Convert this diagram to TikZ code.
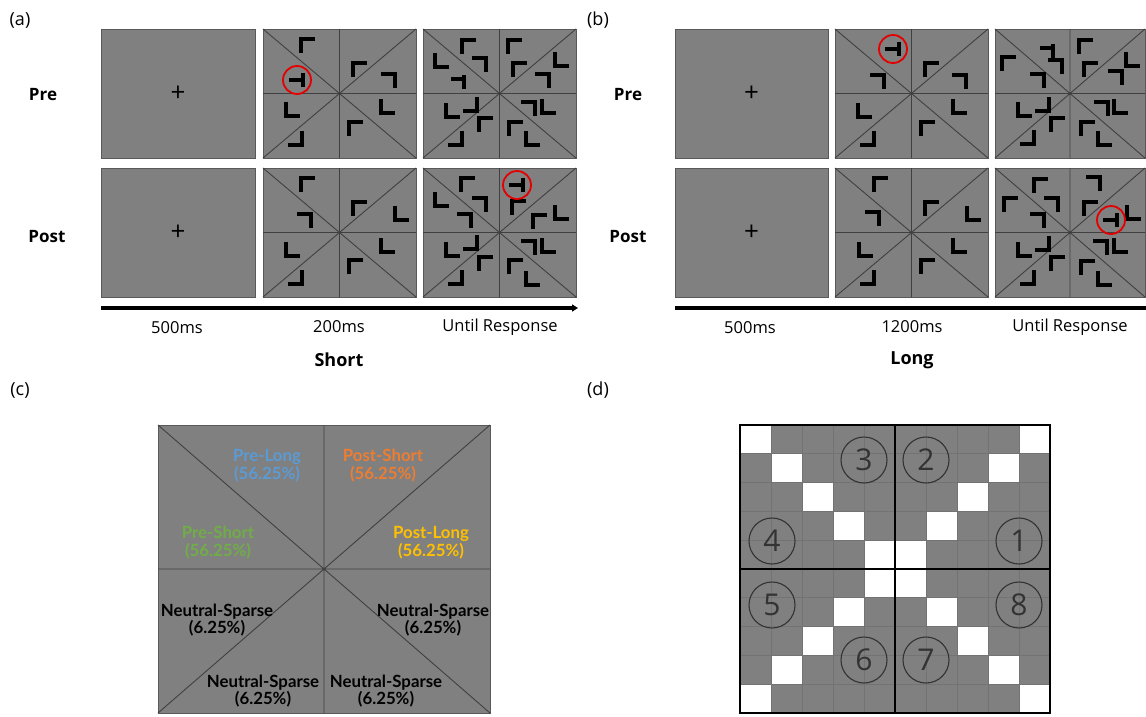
\documentclass[tikz,border=0pt]{standalone}
\usepackage{fontspec}
\setmainfont{Open Sans}
\newfontfamily\cfont{Lato}
\usetikzlibrary{arrows.meta}
\definecolor{stimgray}{HTML}{808080}
\definecolor{cblue}{HTML}{5B9BD5}
\definecolor{corange}{HTML}{ED7D31}
\definecolor{cgreen}{HTML}{70AD47}
\definecolor{cgold}{HTML}{FFC000}
\newcommand\fsz[1]{\fontsize{#1}{#1}\selectfont}
\tikzset{
  stim/.style={draw=black!65, fill=stimgray, line width=1pt, inner sep=0pt, outer sep=0pt,
    minimum width=153pt, minimum height=129pt, font=\fsz{26}},
  divline/.style={draw=black!75, line width=0.9pt},
  lstroke/.style={line width=3.2pt, line join=miter, line cap=butt},
  tgtring/.style={draw=red!90!black, line width=1.8pt, circle, minimum size=28pt, inner sep=0pt},
  panel/.style={font=\fsz{18}},
  rowlbl/.style={font=\bfseries\fsz{17}},
  tlbl/.style={font=\fsz{16.5}},
  cond/.style={font=\bfseries\fsz{18}},
  timeline/.style={line width=3.5pt, -{Triangle[length=6pt,width=7pt]}},
  ctext/.style={font=\cfont\bfseries\fontsize{16.8}{17.5}\selectfont, align=center, inner sep=0pt},
  gridline/.style={draw=black!55, line width=0.8pt},
  numc/.style={circle, draw=black!80, line width=1.1pt, minimum size=46pt, inner sep=0pt,
    font=\fsz{30}, text=black!80},
  lsh/.pic={\draw[lstroke] (7,-7) -- (-7,-7) -- (-7,7);},
  tgt/.pic={\draw[lstroke] (-8,0) -- (6,0); \draw[lstroke] (6,-7) -- (6,7);},
  toff/.pic={\draw[lstroke] (-7,-3) -- (6,-3); \draw[lstroke] (6,-7) -- (6,7);}
}
\newcommand\stimbox[4]{%
  \node[stim, minimum width=#4pt] (#1) at (#2,#3) {};
  \draw[divline] (#1.north) -- (#1.south) (#1.west) -- (#1.east)
    (#1.north west) -- (#1.south east) (#1.north east) -- (#1.south west);}
\begin{document}
\begin{tikzpicture}[x=1pt,y=-1pt]
\useasboundingbox (0,0) rectangle (1146,716);
\fill[white] (0,0) rectangle (1146,716);

% ---------------- panel (a) ----------------
\node[panel] (la) at (20,20) {(a)};
\node[rowlbl] (apre) at (43,95) {Pre};
\node[rowlbl] (apost) at (47,237) {Post};
\node[stim, minimum width=154pt] (a11) at (178,93.5) {+};
\node[stim, minimum width=154pt] (a21) at (178,232.5) {+};
\stimbox{a12}{339.5}{93.5}{153}
\stimbox{a13}{499.5}{93.5}{153}
\stimbox{a22}{339.5}{232.5}{153}
\stimbox{a23}{499.5}{232.5}{153}

\foreach \x/\y/\r in {308/46/0, 360/70/0, 388/81/-90, 293/109/90, 388/106/90, 356/129/0, 295/138/180}
  \pic[rotate=\r] at (\x,\y) {lsh};
\node[tgtring] (ta) at (297,80) {};
\pic at (297,80) {tgt};

\foreach \x/\y/\r in {469/47/0, 442/60/90, 479/65/-90, 515/47/0, 562/59/90, 520/70/0, 542/81/-90,
  453/110/90, 470/104/180, 486/125/0, 455/138/180, 528/109/-90, 549/106/90, 516/129/0, 533/138/90}
  \pic[rotate=\r] at (\x,\y) {lsh};
\pic at (458,82) {toff};

\foreach \x/\y/\r in {308/185/0, 304/221/-90, 360/209/0, 402/213/90, 293/249/90, 388/245/90, 356/267/0, 295/277/180}
  \pic[rotate=\r] at (\x,\y) {lsh};

\foreach \x/\y/\r in {468/185/0, 442/199/90, 479/205/-90, 464/221/-90, 519/208/0, 540/222/0, 562/212/90,
  453/249/90, 470/242/180, 486/264/0, 455/277/180, 528/248/-90, 549/245/90, 516/267/0, 533/278/90}
  \pic[rotate=\r] at (\x,\y) {lsh};
\node[tgtring] (tb) at (517,185) {};
\pic at (517,185) {tgt};

\coordinate (aT0) at (101,308);
\coordinate (aT1) at (578,308);
\draw[timeline] (aT0) -- (aT1);
\node[tlbl] (a500) at (177,328) {500ms};
\node[tlbl] (a200) at (339,327) {200ms};
\node[tlbl] (aur) at (500,327) {Until Response};
\node[cond] (ashort) at (339,360) {Short};

% ---------------- panel (b) ----------------
\node[panel] (lb) at (598,20) {(b)};
\node[rowlbl] (bpre) at (628,95) {Pre};
\node[rowlbl] (bpost) at (628,237) {Post};
\node[stim] (b11) at (751.5,93.5) {+};
\node[stim] (b21) at (751.5,232.5) {+};
\stimbox{b12}{911.5}{93.5}{153}
\stimbox{b13}{1070}{93.5}{150}
\stimbox{b22}{911.5}{232.5}{153}
\stimbox{b23}{1070}{232.5}{150}

\foreach \x/\y/\r in {877/82/-90, 932/70/0, 959/82/-90, 865/110/90, 960/106/90, 928/129/0, 867/138/180}
  \pic[rotate=\r] at (\x,\y) {lsh};
\node[tgtring] (tc) at (893,49) {};
\pic at (893,49) {tgt};

\foreach \x/\y/\r in {1009/64/0, 1055/67/-90, 1037/81/-90, 1086/47/0, 1133/59/90, 1091/70/0, 1115/78/-90,
  1025/109/90, 1042/104/180, 1058/125/0, 1027/137/180, 1101/109/-90, 1121/106/90, 1088/129/0, 1105/138/90}
  \pic[rotate=\r] at (\x,\y) {lsh};
\pic at (1047,51) {toff};

\foreach \x/\y/\r in {881/185/0, 872/219/-90, 932/209/0, 974/213/90, 866/249/90, 960/245/90, 928/267/0, 867/277/180}
  \pic[rotate=\r] at (\x,\y) {lsh};

\foreach \x/\y/\r in {1041/186/0, 1011/205/0, 1051/205/-90, 1037/221/-90, 1093/184/-90, 1091/209/0, 1134/212/90,
  1025/249/90, 1042/243/180, 1058/264/0, 1027/277/180, 1100/248/-90, 1121/245/90, 1088/268/0, 1105/278/90}
  \pic[rotate=\r] at (\x,\y) {lsh};
\node[tgtring] (td) at (1111,220) {};
\pic at (1111,220) {tgt};

\coordinate (bT0) at (675,308);
\coordinate (bT1) at (1152,308);
\draw[timeline] (bT0) -- (bT1);
\node[tlbl] (b500) at (750,328) {500ms};
\node[tlbl] (b1200) at (912,327) {1200ms};
\node[tlbl] (bur) at (1070,327) {Until Response};
\node[cond] (blong) at (912,360) {Long};

% ---------------- panel (c) ----------------
\node[panel] (lc) at (20,390) {(c)};
\node[stim, minimum width=332pt, minimum height=288pt] (cb) at (324,569) {};
\draw[divline] (cb.north) -- (cb.south) (cb.west) -- (cb.east)
  (cb.north west) -- (cb.south east) (cb.north east) -- (cb.south west);
\node[ctext, text=cblue] (cpl) at (267,465.5) {Pre-Long\\(56.25\%)};
\node[ctext, text=corange] (cps) at (383,465.5) {Post-Short\\(56.25\%)};
\node[ctext, text=cgreen] (cpres) at (218,542.5) {Pre-Short\\(56.25\%)};
\node[ctext, text=cgold] (cpostl) at (431,542.5) {Post-Long\\(56.25\%)};
\node[ctext, text=black] (cn1) at (217,620) {Neutral-Sparse\\(6.25\%)};
\node[ctext, text=black] (cn2) at (433,620) {Neutral-Sparse\\(6.25\%)};
\node[ctext, text=black] (cn3) at (263,691) {Neutral-Sparse\\(6.25\%)};
\node[ctext, text=black] (cn4) at (386,691) {Neutral-Sparse\\(6.25\%)};

% ---------------- panel (d) ----------------
\node[panel] (ld) at (598,390) {(d)};
\fill[stimgray] (740,425) rectangle (1050,713);
\foreach \i in {0,...,9} {
  \fill[white] ({740+31*\i},{425+28.8*\i}) rectangle ++(31,28.8);
  \fill[white] ({740+31*(9-\i)},{425+28.8*\i}) rectangle ++(31,28.8);
}
\foreach \i in {1,...,9} {
  \draw[gridline] ({740+31*\i},425) -- ({740+31*\i},713);
  \draw[gridline] (740,{425+28.8*\i}) -- (1050,{425+28.8*\i});
}
\node[draw=black, line width=1.6pt, minimum width=310pt, minimum height=288pt, inner sep=0pt] (dg) at (895,569) {};
\draw[line width=2.2pt] (dg.north) -- (dg.south) (dg.west) -- (dg.east);
\node[numc] (d3) at (864,460) {3};
\node[numc] (d2) at (926,460) {2};
\node[numc] (d4) at (772,541) {4};
\node[numc] (d1) at (1019,541) {1};
\node[numc] (d5) at (772,605) {5};
\node[numc] (d8) at (1019,605) {8};
\node[numc] (d6) at (864,660) {6};
\node[numc] (d7) at (926,660) {7};
\end{tikzpicture}
\end{document}
